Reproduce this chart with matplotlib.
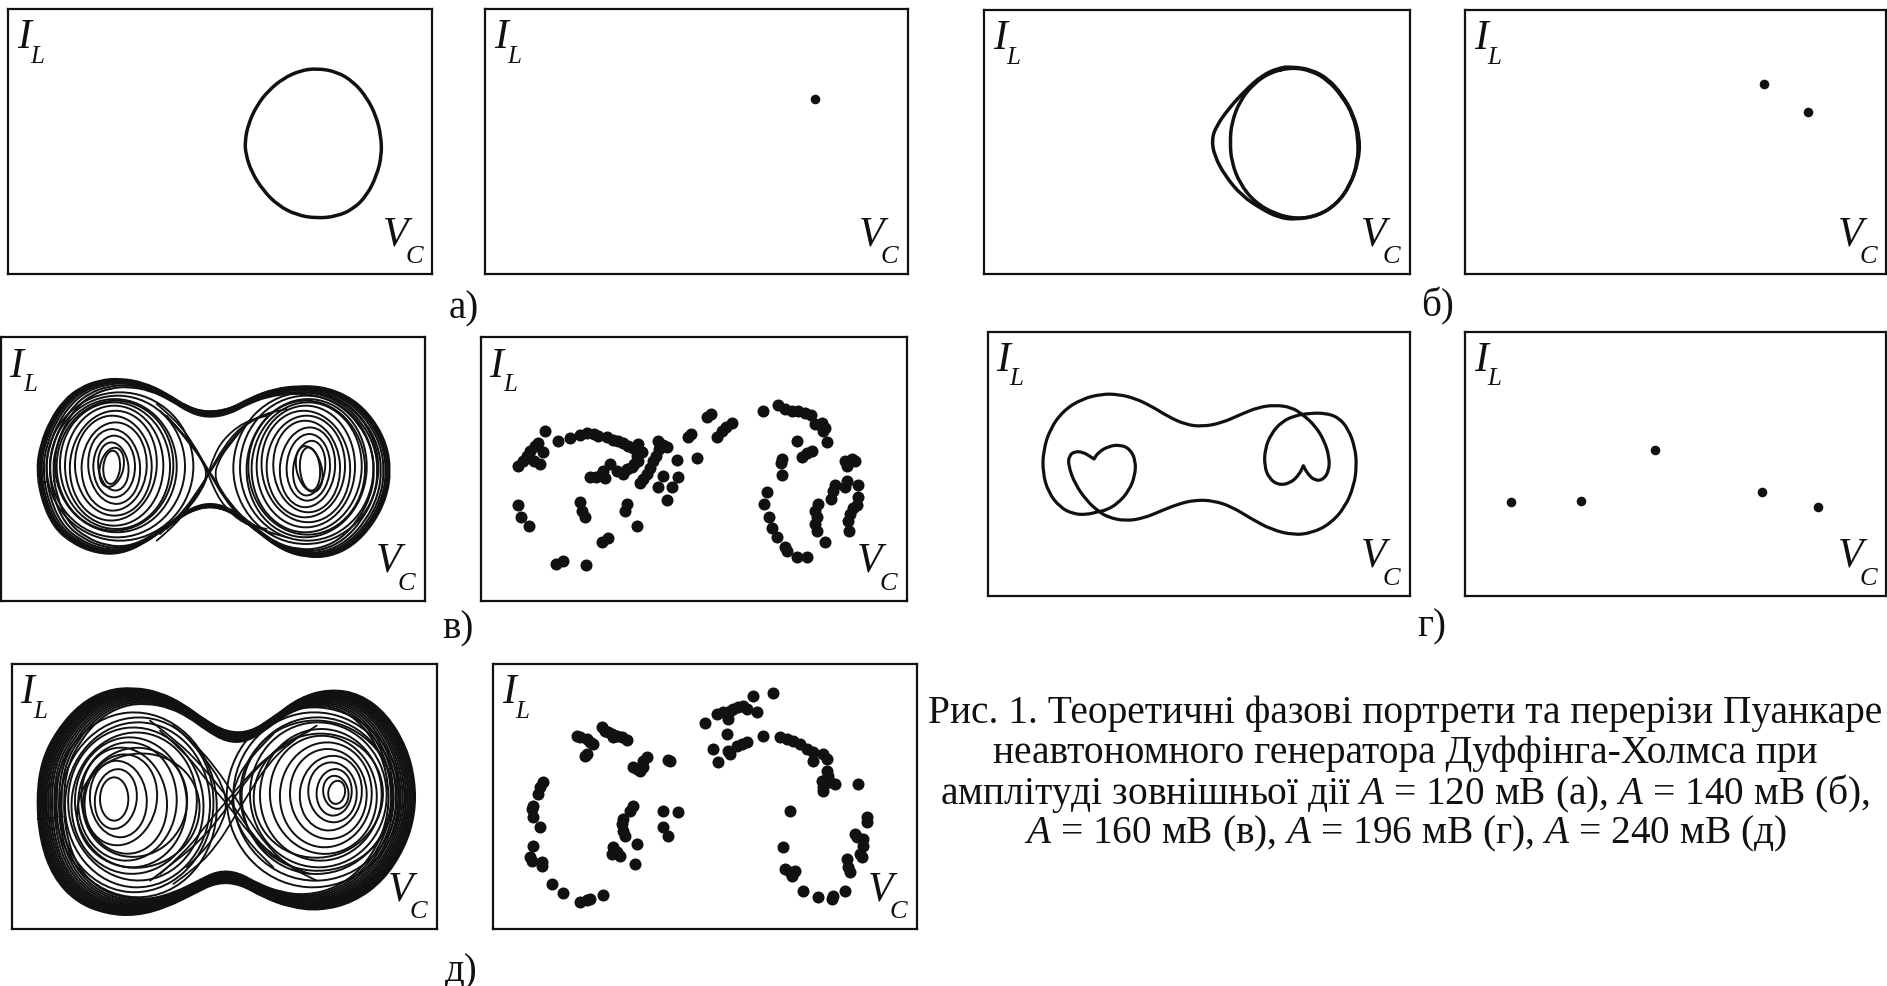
import matplotlib.pyplot as plt
from matplotlib.patches import Ellipse, PathPatch
from matplotlib.path import Path
from matplotlib.transforms import Affine2D

plt.rcParams['font.family'] = ['Liberation Serif', 'DejaVu Serif']
plt.rcParams['mathtext.fontset'] = 'custom'
plt.rcParams['mathtext.it'] = 'Liberation Serif:italic'
plt.rcParams['mathtext.rm'] = 'Liberation Serif'

# а) A = 120 mV, period-1 cycle
cycle_a_v = [950, 1010, 1060, 1100, 1128, 1143, 1145, 1130, 1100, 1060, 1010, 950,
             890, 835, 790, 755, 737, 735, 745, 770, 805, 850, 900, 950]
cycle_a_i = [208, 218, 248, 295, 350, 410, 470, 530, 590, 630, 652, 658,
             648, 620, 575, 520, 465, 425, 375, 320, 275, 238, 215, 208]
poinc_a_v = [1012]
poinc_a_i = [300]

# б) A = 140 mV, period-2 cycle (two turns)
cycle_b1_v = [950, 1010, 1060, 1100, 1135, 1155, 1150, 1125, 1085, 1030, 960, 910,
              860, 800, 750, 718, 710, 725, 760, 810, 860, 910, 950]
cycle_b1_i = [203, 212, 240, 285, 345, 420, 490, 560, 615, 650, 662, 655,
              630, 590, 530, 470, 420, 380, 330, 275, 230, 207, 203]
cycle_b2_v = [950, 1010, 1060, 1100, 1135, 1150, 1148, 1125, 1085, 1030, 965, 900,
              840, 795, 770, 765, 770, 795, 835, 885, 950]
cycle_b2_i = [205, 215, 245, 290, 350, 420, 490, 560, 615, 650, 660, 645,
              610, 555, 490, 430, 370, 305, 255, 220, 205]
poinc_b_v = [952, 1083]
poinc_b_i = [255, 338]

# в) A = 160 mV, chaos
peanut_c_v = [110, 122, 150, 190, 240, 300, 360, 430, 500, 560, 620, 690, 750, 820, 900,
              980, 1060, 1120, 1160, 1172, 1160, 1120, 1060, 990, 920, 850, 780, 710, 640,
              570, 500, 430, 360, 290, 220, 160, 122, 110]
peanut_c_i = [430, 360, 290, 230, 190, 168, 163, 175, 208, 248, 265, 255, 222, 195, 185,
              190, 225, 285, 360, 440, 520, 600, 665, 698, 700, 680, 630, 572, 545,
              560, 610, 660, 690, 688, 660, 610, 520, 430]
peanut_c_scale = [1.0, 0.993, 0.985, 0.977, 0.965, 0.95, 0.93, 0.91]
# in-well turns: bounding box left / right / top / bottom
turns_c_l = [310, 295, 300, 280, 265, 245, 225, 210, 195, 180, 170, 165, 150, 140,
             900, 880, 890, 860, 840, 820, 800, 785, 770, 755, 745, 740, 720, 700]
turns_c_r = [360, 385, 370, 405, 420, 440, 455, 470, 490, 510, 520, 530, 555, 580,
             960, 975, 965, 990, 1005, 1020, 1035, 1050, 1065, 1085, 1095, 1100, 1120, 1135]
turns_c_t = [380, 355, 370, 335, 315, 295, 275, 260, 245, 235, 230, 225, 215, 205,
             370, 350, 365, 330, 310, 290, 275, 260, 245, 235, 230, 225, 215, 205]
turns_c_b = [480, 500, 490, 520, 540, 560, 575, 590, 605, 615, 620, 625, 640, 650,
             500, 515, 505, 530, 550, 565, 580, 595, 610, 625, 632, 640, 650, 660]
turns_c_tilt = [5, -8, 14, 0, -6, 4, -3, 6, 0, -4, 3, -5, 2, 0,
                -5, 8, -14, 3, 6, -4, 2, -6, 0, 4, -3, 5, -2, 0]
cross_c = [
    ([470, 530, 580, 625, 670, 720, 790, 860], [240, 290, 360, 440, 520, 580, 620, 640]),
    ([470, 530, 580, 625, 670, 720, 790, 860], [650, 600, 530, 450, 370, 310, 270, 255]),
    ([480, 545, 600, 640, 690, 750, 820], [260, 320, 400, 460, 540, 600, 630]),
    ([480, 545, 600, 640, 690, 750, 820], [630, 570, 490, 430, 350, 290, 265]),
    ([500, 560, 605, 625, 640, 670, 730, 800], [275, 340, 405, 450, 490, 545, 600, 615]),
    ([500, 560, 605, 625, 640, 670, 730, 800], [615, 560, 500, 450, 400, 345, 295, 275]),
    ([520, 580, 612, 620, 612, 580, 520], [300, 370, 420, 450, 480, 530, 600]),
    ([740, 680, 652, 645, 652, 680, 740], [300, 370, 420, 450, 480, 530, 600]),
]
poinc_c_v = [225, 265, 300, 330, 350, 372, 385, 410, 428, 445, 460, 475, 490, 505, 515, 500, 505, 492,
             145, 160, 170, 180, 195, 205, 192, 210, 218,
             360, 378, 392, 405, 400, 420, 440, 458, 470, 485,
             510, 520, 530, 540, 550, 558, 568, 580, 563, 592,
             580, 565, 605, 625, 590, 620, 680,
             655, 662, 712, 722, 740, 755, 768, 787,
             145, 153, 178, 330, 335, 345, 395, 415, 258, 278, 347, 470, 465, 500,
             880, 925, 945, 965, 985, 1005, 1022, 1035, 1055, 1066, 1058, 1070,
             980, 995, 1010, 1025, 935, 932, 935,
             1125, 1145, 1155, 1130, 1130, 1125, 1165, 1095, 1090, 1082, 1165, 1160, 1150, 1140,
             1135, 1138, 1045, 1035, 1040, 1035, 1040, 1065,
             890, 883, 898, 905, 922, 945, 952, 980, 1010]
poinc_c_i = [320, 352, 342, 332, 328, 330, 336, 340, 347, 352, 358, 366, 372, 360, 385, 395, 410, 420,
             425, 410, 395, 380, 365, 356, 410, 420, 385,
             460, 458, 452, 462, 442, 420, 440, 450, 436, 428,
             478, 466, 450, 432, 412, 395, 375, 362, 352, 370,
             455, 488, 490, 460, 528, 408, 403,
             338, 330, 278, 270, 338, 322, 310, 298,
             543, 578, 605, 535, 560, 580, 655, 642, 720, 712, 722, 540, 560, 605,
             260, 243, 254, 260, 262, 266, 272, 300, 298, 312, 322, 355,
             352, 398, 388, 380, 405, 418, 452,
             410, 405, 412, 425, 470, 490, 482, 482, 500, 525, 520, 542, 552, 570,
             592, 622, 540, 560, 580, 600, 622, 655,
             505, 540, 580, 612, 640, 670, 682, 700, 698]

# г) A = 196 mV, period-5 cycle (cusps listed twice)
cycle_d_v = [680, 740, 800, 850, 900, 950, 985, 1020, 1048, 1063, 1062, 1045, 1020, 998, 985, 985,
             972, 945, 910, 882, 868, 870, 888, 920, 960, 1000, 1050, 1090, 1120, 1140, 1145,
             1137, 1110, 1065, 1010, 955, 890, 830, 770, 715, 660, 610, 560, 505, 450, 400,
             370, 335, 300, 280, 282, 300, 325, 345, 357, 357, 370, 400, 435, 465, 482, 480, 462,
             430, 395, 370, 335, 295, 255, 220, 203, 205, 225, 265, 320, 380, 430, 480, 530,
             580, 630, 680]
cycle_d_i = [323, 312, 285, 265, 258, 265, 288, 320, 365, 415, 455, 482, 485, 465, 440, 440,
             468, 493, 498, 478, 440, 390, 345, 308, 290, 283, 282, 295, 330, 385, 440,
             500, 565, 615, 642, 648, 632, 600, 563, 545, 543, 555, 575, 598, 606, 595,
             577, 545, 495, 440, 410, 397, 400, 412, 420, 420, 400, 382, 377, 390, 425, 470, 515,
             552, 573, 578, 587, 585, 565, 520, 460, 395, 330, 275, 240, 225, 226, 238, 262,
             293, 316, 323]
poinc_d_v = [192, 402, 625, 945, 1112]
poinc_d_i = [550, 547, 393, 518, 565]

# д) A = 240 mV, chaos
peanut_e_v = [110, 125, 170, 240, 320, 400, 480, 550, 610, 680, 750, 820, 900, 990, 1080,
              1160, 1220, 1245, 1245, 1215, 1150, 1060, 960, 870, 790, 720, 650, 580, 500,
              410, 320, 230, 160, 120, 110]
peanut_e_i = [430, 320, 230, 150, 108, 100, 115, 150, 195, 235, 235, 190, 130, 105, 120,
              180, 280, 380, 480, 580, 680, 745, 770, 760, 730, 690, 685, 720, 760,
              785, 780, 745, 670, 560, 430]
peanut_e_scale = [1.0, 0.993, 0.986, 0.978, 0.97, 0.962, 0.953, 0.944, 0.934, 0.924,
                  0.912, 0.9, 0.887, 0.874, 0.86]
turns_e_l = [300, 285, 270, 255, 245, 235, 225, 215, 205, 195, 180, 165, 250, 230,
             985, 970, 950, 925, 900, 870, 840, 810, 780, 750, 725, 700, 680, 760, 720]
turns_e_r = [385, 410, 440, 470, 500, 530, 560, 590, 610, 630, 640, 650, 560, 600,
             1035, 1045, 1055, 1070, 1085, 1100, 1115, 1130, 1145, 1160, 1175, 1190, 1200, 1150, 1180]
turns_e_t = [370, 345, 320, 300, 280, 265, 250, 235, 220, 205, 190, 175, 280, 300,
             380, 365, 345, 325, 305, 285, 265, 245, 225, 205, 190, 175, 160, 240, 200]
turns_e_b = [500, 525, 550, 575, 600, 620, 640, 660, 680, 700, 715, 730, 610, 640,
             450, 465, 485, 505, 530, 555, 580, 600, 620, 640, 660, 680, 700, 610, 650]
turns_e_tilt = [0, 8, -6, 12, -10, 4, -4, 8, -8, 2, 6, -5, 22, -18,
                10, -12, 6, -6, 10, -4, 6, -8, 3, -3, 5, -6, 4, -20, 16]
cross_e = [
    ([450, 530, 600, 660, 710, 770, 850, 930], [200, 260, 330, 400, 470, 560, 630, 660]),
    ([450, 530, 600, 660, 710, 770, 850, 930], [680, 620, 560, 490, 420, 340, 270, 230]),
    ([480, 560, 620, 690, 740, 800, 880], [230, 300, 380, 460, 530, 590, 640]),
    ([480, 560, 620, 690, 740, 800, 880], [660, 590, 510, 430, 370, 310, 260]),
    ([520, 590, 650, 700, 745, 800, 870, 950], [215, 275, 345, 420, 495, 575, 640, 680]),
    ([520, 590, 650, 700, 745, 800, 870, 950], [690, 640, 575, 495, 420, 335, 265, 215]),
    ([560, 630, 670, 680, 670, 630, 560], [250, 330, 400, 450, 500, 570, 640]),
    ([820, 740, 705, 695, 705, 740, 820], [240, 320, 390, 440, 490, 560, 640]),
]
poinc_e_v = [290, 300, 320, 330, 340, 365, 375, 385, 395, 400, 410, 425, 440, 320, 315,
             500, 490, 460, 470, 480, 490, 565, 570,
             190, 180, 175, 160, 155, 160, 180, 160, 150, 155, 185, 185, 215, 250, 300, 320, 330, 370,
             460, 450, 430, 425, 430, 435, 470, 400, 410, 395, 420, 465, 550, 595, 550, 565,
             675, 710, 730, 750, 760, 775, 790, 800, 820, 880, 830, 745, 740, 745, 750, 770, 785,
             800, 700, 715, 850, 900, 920, 940, 960, 980, 1000, 1030, 1040, 1000, 1040, 1045,
             1025, 1030, 1050, 1065, 1030, 1135,
             1160, 1160, 1125, 1130, 1150, 1150, 1140, 1145, 1100, 1105, 1110, 1095, 1060, 1055,
             1015, 970, 930, 910, 915, 930, 945, 935]
poinc_e_i = [245, 250, 255, 265, 270, 220, 230, 235, 240, 250, 245, 250, 258, 300, 305,
             310, 320, 340, 345, 350, 340, 318, 320,
             385, 400, 420, 455, 465, 490, 520, 575, 610, 620, 625, 635, 690, 718, 745, 738, 735, 722,
             455, 470, 495, 510, 530, 545, 570, 580, 595, 600, 605, 630, 470, 475, 520, 545,
             207, 180, 175, 170, 165, 160, 155, 165, 125, 118, 175, 195, 240, 290, 300, 275, 270,
             265, 285, 325, 245, 250, 255, 260, 270, 285, 295, 300, 315, 320, 350, 365,
             380, 400, 385, 390, 410, 390,
             490, 505, 540, 550, 555, 575, 600, 610, 615, 640, 655, 710, 725, 735,
             730, 712, 470, 580, 645, 655, 650, 665]

captions = [
    'Рис. 1. Теоретичні фазові портрети та перерізи Пуанкаре',
    'неавтономного генератора Дуффінга-Холмса при',
    'амплітуді зовнішньої дії $A$ = 120 мВ (а), $A$ = 140 мВ (б),',
    '$A$ = 160 мВ (в), $A$ = 196 мВ (г), $A$ = 240 мВ (д)',
]
panel_tags = ['а)', 'б)', 'в)', 'г)', 'д)']

# ---- layout ----
W, H = 1887, 987
fig = plt.figure(figsize=(W / 100, H / 100), dpi=100)
fig.patch.set_facecolor('white')
INK = '#111111'


def smooth_path(v, i, closed):
    p = list(zip(v, i))
    if closed:
        if p[0] == p[-1]:
            p = p[:-1]
        n = len(p)
        mids = [((p[k][0] + p[(k + 1) % n][0]) / 2, (p[k][1] + p[(k + 1) % n][1]) / 2)
                for k in range(n)]
        verts, codes = [mids[-1]], [Path.MOVETO]
        for k in range(n):
            verts += [p[k], mids[k]]
            codes += [Path.CURVE3, Path.CURVE3]
    else:
        verts, codes = [p[0]], [Path.MOVETO]
        for k in range(1, len(p) - 1):
            mid = ((p[k][0] + p[k + 1][0]) / 2, (p[k][1] + p[k + 1][1]) / 2)
            verts += [p[k], mid]
            codes += [Path.CURVE3, Path.CURVE3]
        verts.append(p[-1])
        codes.append(Path.LINETO)
    return Path(verts, codes)


def draw_curve(ax, v, i, lw, closed=True, transform=None):
    tr = ax.transData if transform is None else transform + ax.transData
    ax.add_patch(PathPatch(smooth_path(v, i, closed), fill=False, ec=INK, lw=lw,
                           transform=tr, capstyle='round', joinstyle='round'))


def panel(x0, y0, zx0, zx1, zy0, zy1):
    left, right = x0 + zx0 / 3, x0 + zx1 / 3
    top, bottom = y0 + zy0 / 3, y0 + zy1 / 3
    ax = fig.add_axes([left / W, 1 - bottom / H, (right - left) / W, (bottom - top) / H])
    ax.set_xlim(zx0, zx1)
    ax.set_ylim(zy1, zy0)
    ax.set_xticks([])
    ax.set_yticks([])
    for s in ax.spines.values():
        s.set_linewidth(1.6)
        s.set_color(INK)
    ax.text(0.02, 0.855, 'I', transform=ax.transAxes, fontsize=30, fontstyle='italic',
            color=INK, va='baseline')
    ax.text(0.052, 0.80, 'L', transform=ax.transAxes, fontsize=18, fontstyle='italic',
            color=INK, va='baseline')
    ax.text(0.884, 0.113, 'V', transform=ax.transAxes, fontsize=30, fontstyle='italic',
            color=INK, va='baseline')
    ax.text(0.936, 0.044, 'C', transform=ax.transAxes, fontsize=19, fontstyle='italic',
            color=INK, va='baseline')
    return ax


def chaos(ax, pv, pi, scales, centre, tl, tr_, tt, tb, tilt, strands):
    for k in scales:
        tr = Affine2D().translate(-centre[0], -centre[1]).scale(k).translate(*centre)
        draw_curve(ax, pv, pi, 1.5, transform=tr)
    for l, r, t, b, a in zip(tl, tr_, tt, tb, tilt):
        ax.add_patch(Ellipse(((l + r) / 2, (t + b) / 2), r - l, b - t, angle=a,
                             fill=False, ec=INK, lw=1.4))
    for sv, si in strands:
        draw_curve(ax, sv, si, 1.3, closed=False)


# а)
ax = panel(0, 0, 25, 1297, 30, 825)
draw_curve(ax, cycle_a_v, cycle_a_i, 2.5)
ax = panel(478, 0, 22, 1290, 30, 825)
ax.scatter(poinc_a_v, poinc_a_i, s=48, color=INK, lw=0)

# б)
ax = panel(975, 0, 28, 1305, 32, 825)
draw_curve(ax, cycle_b1_v, cycle_b1_i, 2.5)
draw_curve(ax, cycle_b2_v, cycle_b2_i, 2.5)
ax = panel(1447, 0, 55, 1318, 32, 825)
ax.scatter(poinc_b_v, poinc_b_i, s=48, color=INK, lw=0)

# в)
ax = panel(0, 325, 3, 1275, 40, 830)
chaos(ax, peanut_c_v, peanut_c_i, peanut_c_scale, (640, 440),
      turns_c_l, turns_c_r, turns_c_t, turns_c_b, turns_c_tilt, cross_c)
ax = panel(470, 325, 32, 1310, 40, 830)
ax.scatter(poinc_c_v, poinc_c_i, s=75, color=INK, lw=0)

# г)
ax = panel(975, 320, 38, 1305, 38, 830)
draw_curve(ax, cycle_d_v, cycle_d_i, 2.3)
ax = panel(1447, 320, 55, 1318, 38, 830)
ax.scatter(poinc_d_v, poinc_d_i, s=48, color=INK, lw=0)

# д)
ax = panel(0, 655, 35, 1310, 30, 825)
chaos(ax, peanut_e_v, peanut_e_i, peanut_e_scale, (678, 440),
      turns_e_l, turns_e_r, turns_e_t, turns_e_b, turns_e_tilt, cross_e)
ax = panel(480, 655, 40, 1310, 30, 825)
ax.scatter(poinc_e_v, poinc_e_i, s=75, color=INK, lw=0)

# sub-figure tags
for tag, (x, y) in zip(panel_tags, [(464, 309), (1438, 306), (458, 629), (1432, 627), (461, 972)]):
    fig.text(x / W, 1 - y / H, tag, fontsize=28, color=INK, ha='center', va='center')

for k, line in enumerate(captions):
    fig.text(1405 / W, 1 - (714 + 40 * k) / H, line, fontsize=28.4, color=INK,
             ha='center', va='center')

fig.savefig('out.png', dpi=100, facecolor='white')
